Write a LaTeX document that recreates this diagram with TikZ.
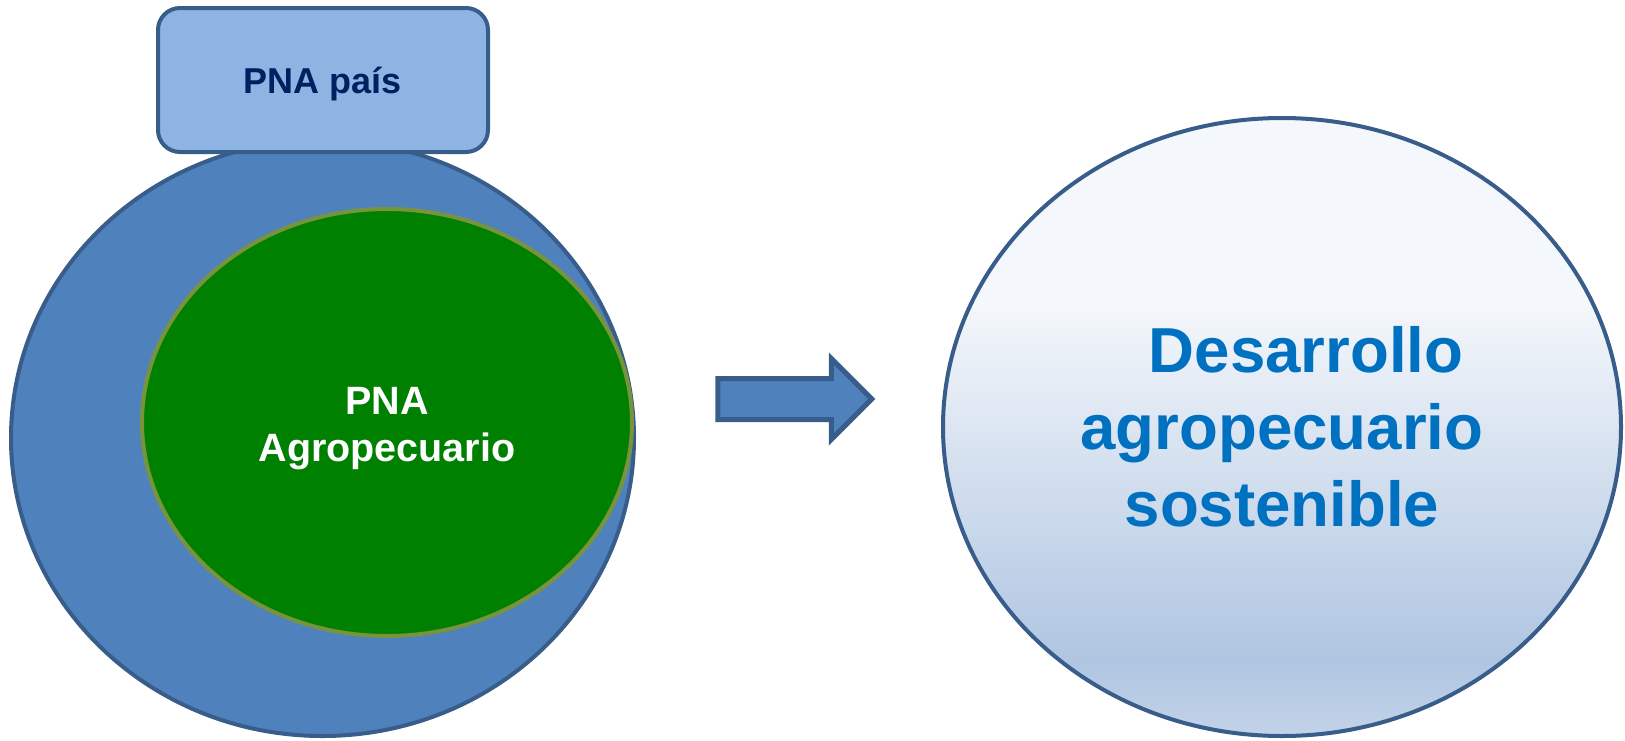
\documentclass[tikz,border=0pt]{standalone}
\usepackage{fontspec}
\setmainfont{Liberation Sans}
\usetikzlibrary{shapes.geometric, shapes.arrows}

\definecolor{bordeazul}{HTML}{385D8A}
\definecolor{azulmedio}{HTML}{4F81BD}
\definecolor{azulclaro}{HTML}{8EB4E3}
\definecolor{verdepna}{HTML}{008000}
\definecolor{bordeverde}{HTML}{77933C}
\definecolor{textoazul}{HTML}{0070C0}
\definecolor{textomarino}{HTML}{002060}
\definecolor{fondoalto}{HTML}{F4F7FB}
\definecolor{fondobajo}{HTML}{AFC5E1}
\definecolor{fondopie}{HTML}{C3D3E8}
\pgfdeclareverticalshading{degradado}{100bp}{color(0bp)=(fondopie); color(25bp)=(fondopie); color(31bp)=(fondobajo); color(60bp)=(fondoalto); color(100bp)=(fondoalto)}

\begin{document}
\begin{tikzpicture}[x=1pt, y=-1pt,
  contorno/.style={draw=bordeazul, line width=4pt, inner sep=0pt},
  elipse/.style={contorno, ellipse, align=center}]
\useasboundingbox (0,0) rectangle (1625,740);
\node[elipse, fill=azulmedio, minimum width=623pt, minimum height=596pt] (pais) at (322.5,438) {};
\node[elipse, draw=bordeverde, fill=verdepna, minimum width=490pt, minimum height=427pt] (agro) at (387,422.5) {};
\node[align=center, text=white, font=\bfseries\fontsize{39.5pt}{46.5pt}\selectfont] (agrotexto) at ([yshift=-6pt]agro.center) {PNA\\Agropecuario};
\node[contorno, fill=azulclaro, rounded corners=22pt, minimum width=330pt, minimum height=144pt, text=textomarino, font=\bfseries\fontsize{36pt}{43pt}\selectfont, text depth=0pt] (caja) at (323,80) {PNA país};
\node[contorno, single arrow, line width=5pt, fill=azulmedio, inner ysep=18pt, minimum height=154pt, single arrow head extend=20pt] (flecha) at (784.5,399) {};
\node[elipse, shade, shading=degradado, minimum width=678pt, minimum height=618pt, text=textoazul, font=\bfseries\fontsize{63.6pt}{77pt}\selectfont] (desarrollo) at (1282,427) {\hspace*{48pt}Desarrollo\\agropecuario\\sostenible};
\end{tikzpicture}
\end{document}
